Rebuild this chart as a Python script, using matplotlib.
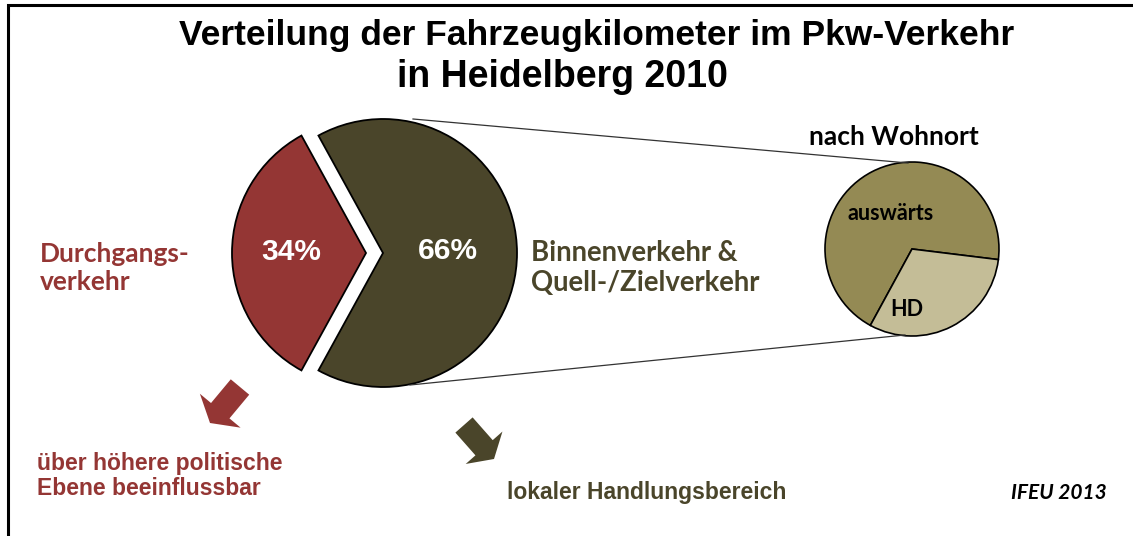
import matplotlib
matplotlib.use("Agg")
import matplotlib.pyplot as plt

# data
main_labels = ["Durchgangsverkehr", "Binnenverkehr & Quell-/Zielverkehr"]
main_shares = [34, 66]
main_colors = ["#943634", "#4A452A"]

sub_labels = ["auswärts", "HD"]
sub_shares = [69, 31]
sub_colors = ["#948A54", "#C4BD97"]

W, H = 1133, 536
fig = plt.figure(figsize=(W / 100, H / 100), dpi=100)
ax = fig.add_axes([0, 0, 1, 1])

# big pie: red slice pulled out to the left
ax.pie(main_shares, colors=main_colors, center=(383, 283), radius=134,
       startangle=180 - main_shares[0] * 1.8, explode=[17, 0], frame=True,
       wedgeprops=dict(edgecolor="black", linewidth=1.3))

# small pie: breakdown by place of residence
ax.pie(sub_shares, colors=sub_colors, center=(912, 287), radius=87,
       startangle=-7, frame=True,
       wedgeprops=dict(edgecolor="black", linewidth=1.2))

ax.set_xlim(0, W)
ax.set_ylim(0, H)
ax.set_aspect("equal")
ax.axis("off")

# connecting lines
ax.plot([413, 908], [H - 119, H - 163], color="#333333", lw=0.9)
ax.plot([410, 905], [H - 385, H - 335], color="#333333", lw=0.9)

# arrows
ax.arrow(240, H - 387, -30, -36, width=24, head_width=53, head_length=16,
         length_includes_head=True, color=main_colors[0], lw=0)
ax.arrow(464, H - 425, 30, -34, width=23, head_width=49, head_length=15,
         length_includes_head=True, color=main_colors[1], lw=0)

arial = "Liberation Sans"
cal = "Lato"

ax.text(597, H - 45, "Verteilung der Fahrzeugkilometer im Pkw-Verkehr", ha="center",
        va="baseline", fontsize=25.5, fontweight="bold", family=arial)
ax.text(562, H - 87, "in Heidelberg 2010", ha="center", va="baseline",
        fontsize=27, fontweight="bold", family=arial)

ax.text(291, H - 252, f"{main_shares[0]}%", ha="center", va="center", color="white",
        fontsize=21.5, fontweight="bold", family=arial)
ax.text(448, H - 251, f"{main_shares[1]}%", ha="center", va="center", color="white",
        fontsize=21.5, fontweight="bold", family=arial)

ax.text(40, H - 268, "Durchgangs-\nverkehr", ha="left", va="center",
        color=main_colors[0], fontsize=19, fontweight="bold", family=cal, linespacing=1.25)
ax.text(531, H - 268, "Binnenverkehr &\nQuell-/Zielverkehr", ha="left", va="center",
        color=main_colors[1], fontsize=19.8, fontweight="bold", family=cal, linespacing=1.2)

ax.text(894, H - 137, "nach Wohnort", ha="center", va="center",
        fontsize=19, fontweight="bold", family=cal)
ax.text(891, H - 213, sub_labels[0], ha="center", va="center",
        fontsize=15.5, fontweight="bold", family=cal)
ax.text(907, H - 310, sub_labels[1], ha="center", va="center",
        fontsize=15.5, fontweight="bold", family=cal)

ax.text(37, H - 476, "über höhere politische\nEbene beeinflussbar", ha="left", va="center",
        color=main_colors[0], fontsize=16.5, fontweight="bold", family=arial, linespacing=1.15)
ax.text(647, H - 493, "lokaler Handlungsbereich", ha="center", va="center",
        color=main_colors[1], fontsize=16.5, fontweight="bold", family=arial)
ax.text(1107, H - 493, "IFEU 2013", ha="right", va="center", fontsize=15,
        fontweight="bold", style="italic", family=cal)

# slide frame (left and top edge)
ax.plot([8, 8, W], [0, H - 5, H - 5], color="black", lw=2.2, solid_joinstyle="miter")

fig.savefig("out.png", dpi=100)
